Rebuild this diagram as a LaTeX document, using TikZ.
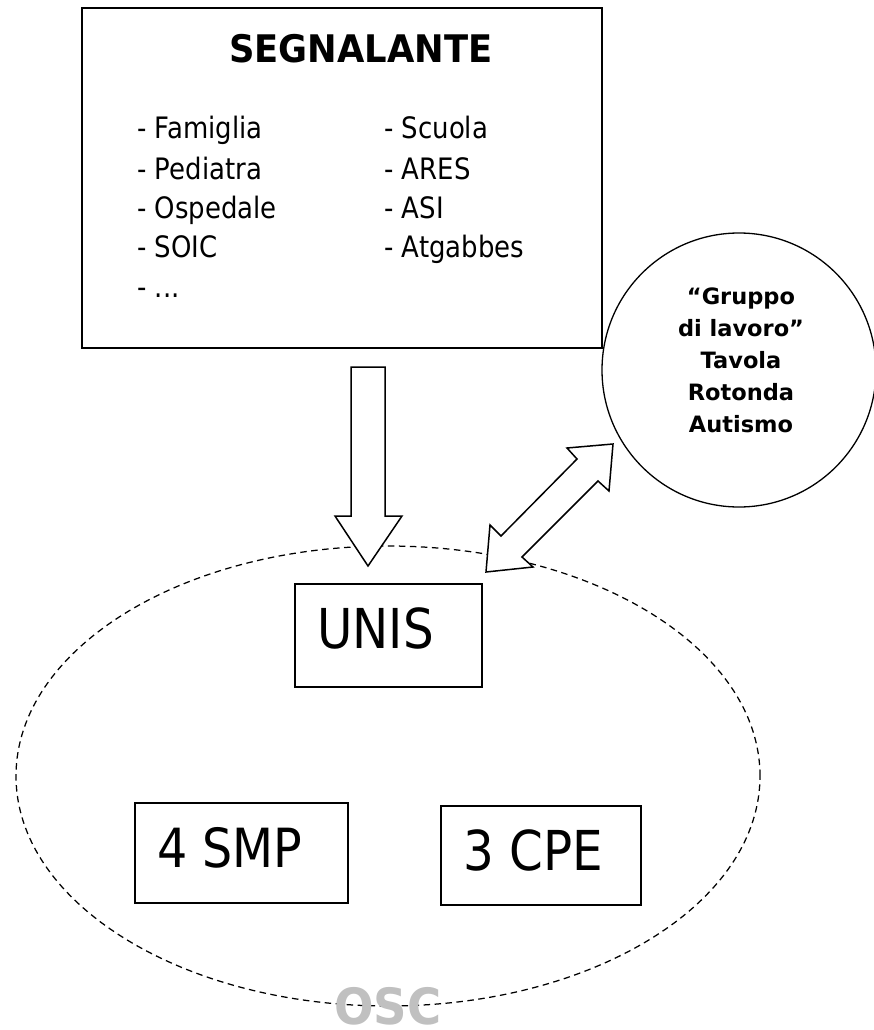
\documentclass[tikz,border=0pt]{standalone}
\usepackage{fontspec}
\setmainfont{DejaVu Sans}[FakeStretch=0.88]
\newfontfamily\boldf{DejaVu Sans}[FakeStretch=0.93]
\newfontfamily\boldw{DejaVu Sans}
\usetikzlibrary{shapes.geometric}
\definecolor{oscgray}{RGB}{192,192,192}
\begin{document}
\begin{tikzpicture}[x=1pt,y=-1pt,
  frame/.style={draw, line width=1.6pt, inner sep=0pt},
  lbl/.style={anchor=base west, inner sep=0pt},
  listtxt/.style={lbl, font=\fontsize{29.5}{35}\selectfont},
  bigtxt/.style={lbl, font=\fontsize{55}{60}\selectfont},
  blockarrow/.style={draw, fill=white, line width=1.5pt, line join=miter},
  dashring/.style={draw, ellipse, line width=1.25pt, dash pattern=on 6.5pt off 4.5pt, inner sep=0pt}]
\useasboundingbox (0,0) rectangle (874,1030);

% OSC area
\node (oscarea) [dashring, minimum width=744pt, minimum height=460pt] at (388,776) {};
\node (osc) [anchor=base, inner sep=0pt, text=oscgray, font=\boldf\bfseries\fontsize{50}{54}\selectfont] at (388,1024) {OSC};

% SEGNALANTE box
\node (segn) [frame, minimum width=520pt, minimum height=340pt] at (342,178) {};
\node (segnt) [anchor=base, inner sep=0pt, font=\boldf\bfseries\fontsize{38}{42}\selectfont] at (361,63) {SEGNALANTE};
\node (l1) [listtxt] at (137,139) {- Famiglia};
\node (l2) [listtxt] at (137,179) {- Pediatra};
\node (l3) [listtxt] at (137,218) {- Ospedale};
\node (l4) [listtxt] at (137,257) {- SOIC};
\node (l5) [listtxt] at (137,297) {- ...};
\node (r1) [listtxt] at (384,139) {- Scuola};
\node (r2) [listtxt] at (384,179) {- ARES};
\node (r3) [listtxt] at (384,218) {- ASI};
\node (r4) [listtxt] at (384,257) {- Atgabbes};

% Gruppo di lavoro circle
\node (grp) [draw, circle, line width=1.3pt, minimum size=274pt, inner sep=0pt] at (739,370) {};
\node (grpt) [anchor=north, inner sep=0pt, align=center, font=\boldw\bfseries\fontsize{22.5}{32}\selectfont] at (741,288)
  {“Gruppo\\di lavoro”\\Tavola\\Rotonda\\Autismo};

% inner boxes
\node (unis) [frame, minimum width=187pt, minimum height=103pt] at (388.5,635.5) {};
\node (unist) [bigtxt] at (317,648) {UNIS};
\node (smp) [frame, minimum width=213pt, minimum height=100pt] at (241.5,853) {};
\node (smpt) [bigtxt, font=\fontsize{54}{60}\selectfont] at (157,867) {4 SMP};
\node (cpe) [frame, minimum width=200pt, minimum height=99pt] at (541,855.5) {};
\node (cpet) [bigtxt] at (463,870) {3 CPE};

% block arrows
\draw[blockarrow] (351,367) -- (385,367) -- (385,516) -- (402,516) -- (368,566)
  -- (335,516) -- (351,516) -- cycle;
\draw[blockarrow] (486,572) -- (490,525) -- (501,536) -- (577,459) -- (567,448)
  -- (613,444) -- (609,491) -- (598,481) -- (522,557) -- (533,567) -- cycle;
\end{tikzpicture}
\end{document}
